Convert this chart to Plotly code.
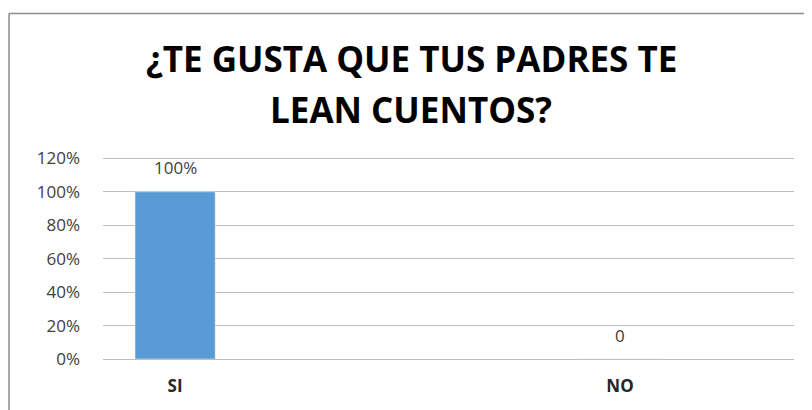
import plotly.graph_objects as go

categories = ["SI", "NO"]
values = [1.0, 0.0]
value_labels = ["100%", "0"]
tick_vals = [0, 0.2, 0.4, 0.6, 0.8, 1.0, 1.2]
tick_text = ["0%", "20%", "40%", "60%", "80%", "100%", "120%"]
title_lines = ["¿TE GUSTA QUE TUS PADRES TE", "LEAN CUENTOS?"]

FONT = "Open Sans"

fig = go.Figure()
fig.add_trace(go.Bar(
    x=categories, y=values,
    marker_color="#5B9BD5", width=0.18,
))

# data labels sit a fixed distance above each bar
for cat, val, lab in zip(categories, values, value_labels):
    fig.add_annotation(
        x=cat, y=val, text=lab, showarrow=False, yshift=24,
        xanchor="center", yanchor="middle",
        font=dict(family=FONT, size=17, color="#404040"),
    )

for i, line in enumerate(title_lines):
    fig.add_annotation(
        xref="paper", yref="paper", x=0.446, y=1.475 - i * 0.25,
        text=f"<b>{line}</b>", showarrow=False,
        xanchor="center", yanchor="middle",
        font=dict(family=FONT, size=35, color="black"),
    )

# page body has an 8px margin, so the figure is 8px smaller than the window
fig.update_layout(
    width=804, height=402,
    margin=dict(l=95, r=18, t=147, b=51, autoexpand=False),
    paper_bgcolor="white", plot_bgcolor="white",
    showlegend=False,
    xaxis=dict(
        range=[-0.162, 1.391], showgrid=False, showline=False, automargin=False,
        ticks="", tickfont=dict(family=FONT, size=17, color="#262626"),
        tickvals=categories, ticktext=["<b>SI</b>", "<b>NO</b>"],
        ticklabelstandoff=15,
    ),
    yaxis=dict(
        range=[0, 1.22], tickvals=tick_vals, ticktext=tick_text, automargin=False,
        showgrid=True, gridcolor="#bfbfbf", gridwidth=1,
        zeroline=True, zerolinecolor="#bfbfbf", zerolinewidth=1,
        tickfont=dict(family=FONT, size=17, color="#404040"),
        ticklabelstandoff=22,
    ),
    shapes=[
        dict(type="line", xref="paper", yref="paper", x0=-0.136, x1=-0.136,
             y0=-0.3, y1=1.694, line=dict(color="#8c8c8c", width=1.5)),
        dict(type="line", xref="paper", yref="paper", x0=-0.136, x1=1.1,
             y0=1.694, y1=1.694, line=dict(color="#8c8c8c", width=1.5)),
    ],
)

fig.write_html("out.html")
